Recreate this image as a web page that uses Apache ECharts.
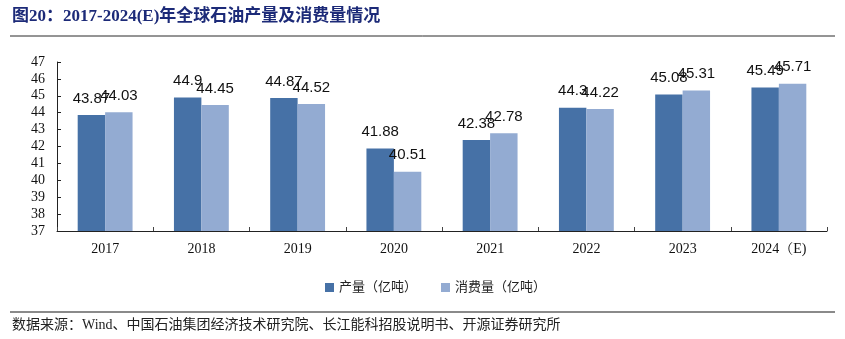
<!DOCTYPE html>
<html>
<head>
<meta charset="utf-8">
<script src="https://cdn.jsdelivr.net/npm/echarts@6/dist/echarts.min.js"></script>
<style>
  html, body { margin: 0; padding: 0; background: #fff; }
  #chart { width: 845px; height: 339px; }
</style>
</head>
<body>
<div id="chart"></div>
<script>
// Global oil production and consumption, 2017-2024(E), in 100 million tonnes
const years = ['2017', '2018', '2019', '2020', '2021', '2022', '2023', '2024（E)'];
const production = [43.87, 44.9, 44.87, 41.88, 42.38, 44.3, 45.08, 45.49];
const consumption = [44.03, 44.45, 44.52, 40.51, 42.78, 44.22, 45.31, 45.71];
const seriesNames = ['产量（亿吨）', '消费量（亿吨）'];
const yTicks = { min: 37, max: 47, step: 1 };

const serif = '"Liberation Serif", "Noto Serif CJK SC", "Noto Sans CJK SC", serif';
const cjk = '"Liberation Serif", "Noto Sans CJK SC", serif';

const chart = echarts.init(document.getElementById('chart'), null, { renderer: 'canvas' });

const labelStyle = {
  show: true,
  position: 'top',
  distance: 9,
  fontSize: 15,
  color: '#111',
  fontFamily: '"Liberation Sans", "Open Sans", sans-serif'
};

chart.setOption({
  animation: false,
  backgroundColor: '#fff',
  graphic: [
    {
      type: 'text', left: 12, top: 8,
      style: {
        text: '图20：2017-2024(E)年全球石油产量及消费量情况',
        fontSize: 17, fontWeight: 'bold', fill: '#1c2a78',
        fontFamily: '"Liberation Serif", "Noto Sans CJK SC", serif'
      }
    },
    {
      type: 'line', shape: { x1: 10, y1: 36, x2: 835, y2: 36 },
      style: { stroke: '#2a2a2a', lineWidth: 1 }
    },
    {
      type: 'line', shape: { x1: 10, y1: 312, x2: 835, y2: 312 },
      style: { stroke: '#8a8a8a', lineWidth: 2 }
    },
    {
      type: 'text', left: 12, top: 318,
      style: {
        text: '数据来源：Wind、中国石油集团经济技术研究院、长江能科招股说明书、开源证券研究所',
        fontSize: 14, fill: '#222', fontFamily: cjk
      }
    }
  ],
  legend: {
    top: 276,
    left: 320,
    itemWidth: 9,
    itemHeight: 9,
    itemGap: 24,
    icon: 'rect',
    textStyle: { fontSize: 13, color: '#222', fontFamily: cjk },
    data: seriesNames
  },
  grid: { left: 57, right: 18, top: 62, bottom: 108 },
  xAxis: {
    type: 'category',
    data: years,
    axisLine: { lineStyle: { color: '#222', width: 1 } },
    axisTick: { show: true, inside: true, length: 4, lineStyle: { color: '#444' } },
    axisLabel: { fontSize: 14, color: '#111', fontFamily: serif, margin: 11 }
  },
  yAxis: {
    type: 'value',
    min: yTicks.min,
    max: yTicks.max,
    interval: yTicks.step,
    splitLine: { show: false },
    axisLine: { show: true, lineStyle: { color: '#222', width: 1 } },
    axisTick: { show: true, inside: true, length: 4, lineStyle: { color: '#222' } },
    axisLabel: { fontSize: 14, color: '#111', fontFamily: serif, margin: 12 }
  },
  series: [
    {
      name: seriesNames[0],
      type: 'bar',
      data: production,
      barGap: '0%',
      barCategoryGap: '43%',
      itemStyle: { color: '#4671a6' },
      label: labelStyle
    },
    {
      name: seriesNames[1],
      type: 'bar',
      data: consumption,
      itemStyle: { color: '#93abd2' },
      label: labelStyle
    }
  ]
});
</script>
</body>
</html>
